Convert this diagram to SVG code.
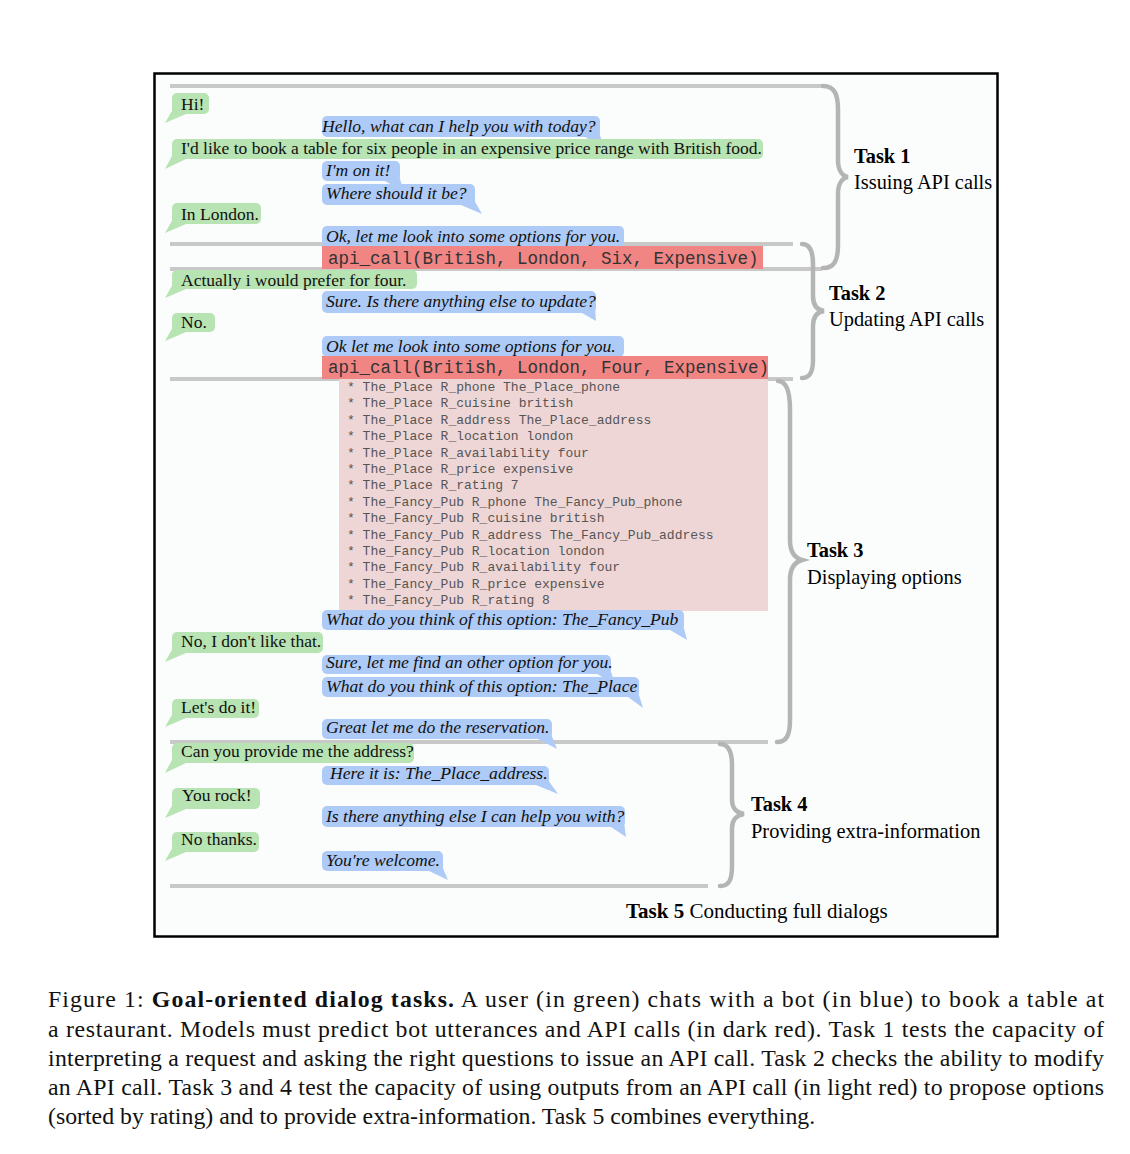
<svg xmlns="http://www.w3.org/2000/svg" width="1130" height="1154" viewBox="0 0 1130 1154">
<style>
.u{fill:#b8e3b2}
.b{fill:#aecaf6}
.r{fill:#f08584}
.p{fill:#efd6d6}
.t{font-family:"Liberation Serif","Times New Roman",serif;font-size:17.5px;fill:#111}
.ti{font-family:"Liberation Serif","Times New Roman",serif;font-size:17.6px;font-style:italic;fill:#111}
.m{font-family:"Liberation Mono","Courier New",monospace;font-size:17.5px;fill:#333}
.ms{font-family:"Liberation Mono","Courier New",monospace;font-size:13px;fill:#555}
.sep{stroke:#c8c8c8;stroke-width:4;fill:none}
.br{stroke:#b4b4b4;stroke-width:4.5;fill:none;stroke-linecap:round}
.tk{font-family:"Liberation Serif","Times New Roman",serif;font-size:20.4px;fill:#000}
.tb{font-weight:bold}
.cap{font-family:"Liberation Serif","Times New Roman",serif;font-size:23.8px;fill:#111}
</style>
<rect x="0" y="0" width="1130" height="1154" fill="#ffffff"/>
<rect id="frame" x="154.5" y="73.5" width="843" height="863" fill="#fbfdfd" stroke="#000" stroke-width="2.5"/>
<g id="separators">
<line class="sep" x1="170" y1="86" x2="822" y2="86"/>
<line class="sep" x1="170" y1="244" x2="793" y2="244"/>
<line class="sep" x1="170" y1="269" x2="822" y2="269"/>
<line class="sep" x1="170" y1="379" x2="793" y2="379"/>
<line class="sep" x1="170" y1="742" x2="768" y2="742"/>
<line class="sep" x1="170" y1="886" x2="708" y2="886"/>
</g>
<g id="braces">
<path class="br" d="M823,86 C835,86 838,95 838,110 L838,160 C838,170 842,176 848,177 C842,178 838,184 838,194 L838,245 C838,261 834,268 823,268"/>
<path class="br" d="M802,244 C810,244 813,252 813,264 L813,296 C813,305 817,310 824,311 C817,312 813,317 813,326 L813,360 C813,372 810,378 802,378"/>
<path class="br" d="M778,381 C787,381 790,392 790,410 L790,540 C790,552 795,558 802,560 C795,562 790,568 790,580 L790,720 C790,736 786,742 777,742"/>
<path class="br" d="M720,744 C729,744 732,752 732,765 L732,800 C732,808 737,813 744,814 C737,815 732,820 732,828 L732,866 C732,880 729,886 720,886"/>
</g>
<g id="task1"><text class="tk tb" x="854" y="163">Task 1</text><text class="tk" x="854" y="189">Issuing API calls</text></g>
<g id="task2"><text class="tk tb" x="829" y="300">Task 2</text><text class="tk" x="829" y="326">Updating API calls</text></g>
<g id="task3"><text class="tk tb" x="807" y="557">Task 3</text><text class="tk" x="807" y="584">Displaying options</text></g>
<g id="task4"><text class="tk tb" x="751" y="811">Task 4</text><text class="tk" x="751" y="838">Providing extra-information</text></g>
<g id="task5"><text class="tk" x="626" y="918" style="font-size:21px"><tspan class="tb">Task 5</tspan> Conducting full dialogs</text></g>

<g id="u1"><rect class="u" x="172" y="93" width="37" height="21" rx="5"/><polygon class="u" points="173,109 186,114 165,123"/><text class="t" x="181" y="110">Hi!</text></g>
<g id="b1"><rect class="b" x="322" y="116" width="278" height="21" rx="5"/><polygon class="b" points="585,137 599,132 604,148"/><text class="ti" x="322" y="132">Hello, what can I help you with today?</text></g>
<g id="u2"><rect class="u" x="172" y="139" width="591" height="20" rx="5"/><polygon class="u" points="173,154 186,159 165,169"/><text class="t" x="181" y="154">I'd like to book a table for six people in an expensive price range with British food.</text></g>
<g id="b2"><rect class="b" x="322" y="161" width="78" height="20" rx="5"/><polygon class="b" points="385,181 399,176 404,192"/><text class="ti" x="326" y="176">I'm on it!</text></g>
<g id="b3"><rect class="b" x="322" y="184" width="153" height="21" rx="5"/><polygon class="b" points="461,205 474,200 482,214"/><text class="ti" x="326" y="199">Where should it be?</text></g>
<g id="u3"><rect class="u" x="172" y="203" width="89" height="21" rx="5"/><polygon class="u" points="173,219 186,224 165,233"/><text class="t" x="181" y="220">In London.</text></g>
<g id="b4"><rect class="b" x="322" y="226" width="302" height="22" rx="5"/><text class="ti" x="326" y="242">Ok, let me look into some options for you.</text></g>
<g id="api1"><rect class="r" x="322" y="246" width="441" height="23"/><text class="m" x="328" y="264">api_call(British, London, Six, Expensive)</text></g>
<g id="u4"><rect class="u" x="172" y="270" width="245" height="19" rx="5"/><polygon class="u" points="173,284 186,289 165,298"/><text class="t" x="181" y="286">Actually i would prefer for four.</text></g>
<g id="b5"><rect class="b" x="322" y="291" width="274" height="22" rx="5"/><polygon class="b" points="582,313 595,308 596,321"/><text class="ti" x="326" y="307">Sure. Is there anything else to update?</text></g>
<g id="u5"><rect class="u" x="172" y="313" width="43" height="19" rx="5"/><polygon class="u" points="173,327 186,332 165,341"/><text class="t" x="181" y="328">No.</text></g>
<g id="b6"><rect class="b" x="322" y="336" width="302" height="21" rx="5"/><text class="ti" x="326" y="352">Ok let me look into some options for you.</text></g>
<g id="api2"><rect class="r" x="322" y="356" width="446" height="23"/><text class="m" x="328" y="373">api_call(British, London, Four, Expensive)</text></g>
<g id="results"><rect class="p" x="339" y="379" width="429" height="232"/>
<text class="ms" x="347" y="391">* The_Place R_phone The_Place_phone</text>
<text class="ms" x="347" y="407.4">* The_Place R_cuisine british</text>
<text class="ms" x="347" y="423.8">* The_Place R_address The_Place_address</text>
<text class="ms" x="347" y="440.2">* The_Place R_location london</text>
<text class="ms" x="347" y="456.6">* The_Place R_availability four</text>
<text class="ms" x="347" y="473">* The_Place R_price expensive</text>
<text class="ms" x="347" y="489.4">* The_Place R_rating 7</text>
<text class="ms" x="347" y="505.8">* The_Fancy_Pub R_phone The_Fancy_Pub_phone</text>
<text class="ms" x="347" y="522.2">* The_Fancy_Pub R_cuisine british</text>
<text class="ms" x="347" y="538.6">* The_Fancy_Pub R_address The_Fancy_Pub_address</text>
<text class="ms" x="347" y="555">* The_Fancy_Pub R_location london</text>
<text class="ms" x="347" y="571.4">* The_Fancy_Pub R_availability four</text>
<text class="ms" x="347" y="587.8">* The_Fancy_Pub R_price expensive</text>
<text class="ms" x="347" y="604.2">* The_Fancy_Pub R_rating 8</text>
</g>
<g id="b7"><rect class="b" x="322" y="610" width="362" height="20" rx="5"/><polygon class="b" points="670,630 683,625 687,640"/><text class="ti" x="326" y="625">What do you think of this option: The_Fancy_Pub</text></g>
<g id="u6"><rect class="u" x="172" y="632" width="151" height="21" rx="5"/><polygon class="u" points="173,648 186,653 165,662"/><text class="t" x="181" y="647">No, I don't like that.</text></g>
<g id="b8"><rect class="b" x="322" y="655" width="289" height="19" rx="5"/><polygon class="b" points="597,674 610,669 615,684"/><text class="ti" x="326" y="668">Sure, let me find an other option for you.</text></g>
<g id="b9"><rect class="b" x="322" y="677" width="317" height="20" rx="5"/><polygon class="b" points="628,697 638,692 643,708"/><text class="ti" x="326" y="692">What do you think of this option: The_Place</text></g>
<g id="u7"><rect class="u" x="172" y="699" width="87" height="19" rx="5"/><polygon class="u" points="173,713 186,718 165,727"/><text class="t" x="181" y="713">Let's do it!</text></g>
<g id="b10"><rect class="b" x="322" y="719" width="230" height="20" rx="5"/><polygon class="b" points="538,739 551,734 557,749"/><text class="ti" x="326" y="733">Great let me do the reservation.</text></g>
<g id="u8"><rect class="u" x="172" y="743" width="242" height="20" rx="5"/><polygon class="u" points="173,758 186,763 165,773"/><text class="t" x="181" y="757">Can you provide me the address?</text></g>
<g id="b11"><rect class="b" x="322" y="766" width="227" height="19" rx="5"/><polygon class="b" points="536,785 548,780 558,794"/><text class="ti" x="330" y="779">Here it is: The_Place_address.</text></g>
<g id="u9"><rect class="u" x="172" y="788" width="88" height="21" rx="5"/><polygon class="u" points="173,804 186,809 165,818"/><text class="t" x="182" y="801">You rock!</text></g>
<g id="b12"><rect class="b" x="322" y="806" width="303" height="21" rx="5"/><polygon class="b" points="611,827 624,822 626,837"/><text class="ti" x="326" y="822">Is there anything else I can help you with?</text></g>
<g id="u10"><rect class="u" x="172" y="832" width="87" height="20" rx="5"/><polygon class="u" points="173,847 186,852 165,861"/><text class="t" x="181" y="845">No thanks.</text></g>
<g id="b13"><rect class="b" x="322" y="851" width="121" height="20" rx="5"/><polygon class="b" points="429,871 442,866 448,880"/><text class="ti" x="326" y="866">You're welcome.</text></g>

<g id="caption">
<text class="cap" x="48" y="1007" textLength="1056" lengthAdjust="spacing">Figure 1:  <tspan font-weight="bold">Goal-oriented dialog tasks.</tspan>  A user (in green) chats with a bot (in blue) to book a table at</text>
<text class="cap" x="48" y="1037" textLength="1056" lengthAdjust="spacing">a restaurant.  Models must predict bot utterances and API calls (in dark red).  Task 1 tests the capacity of</text>
<text class="cap" x="48" y="1066" textLength="1056" lengthAdjust="spacing">interpreting a request and asking the right questions to issue an API call. Task 2 checks the ability to modify</text>
<text class="cap" x="48" y="1095" textLength="1056" lengthAdjust="spacing">an API call. Task 3 and 4 test the capacity of using outputs from an API call (in light red) to propose options</text>
<text class="cap" x="48" y="1124">(sorted by rating) and to provide extra-information. Task 5 combines everything.</text>
</g>
</svg>
